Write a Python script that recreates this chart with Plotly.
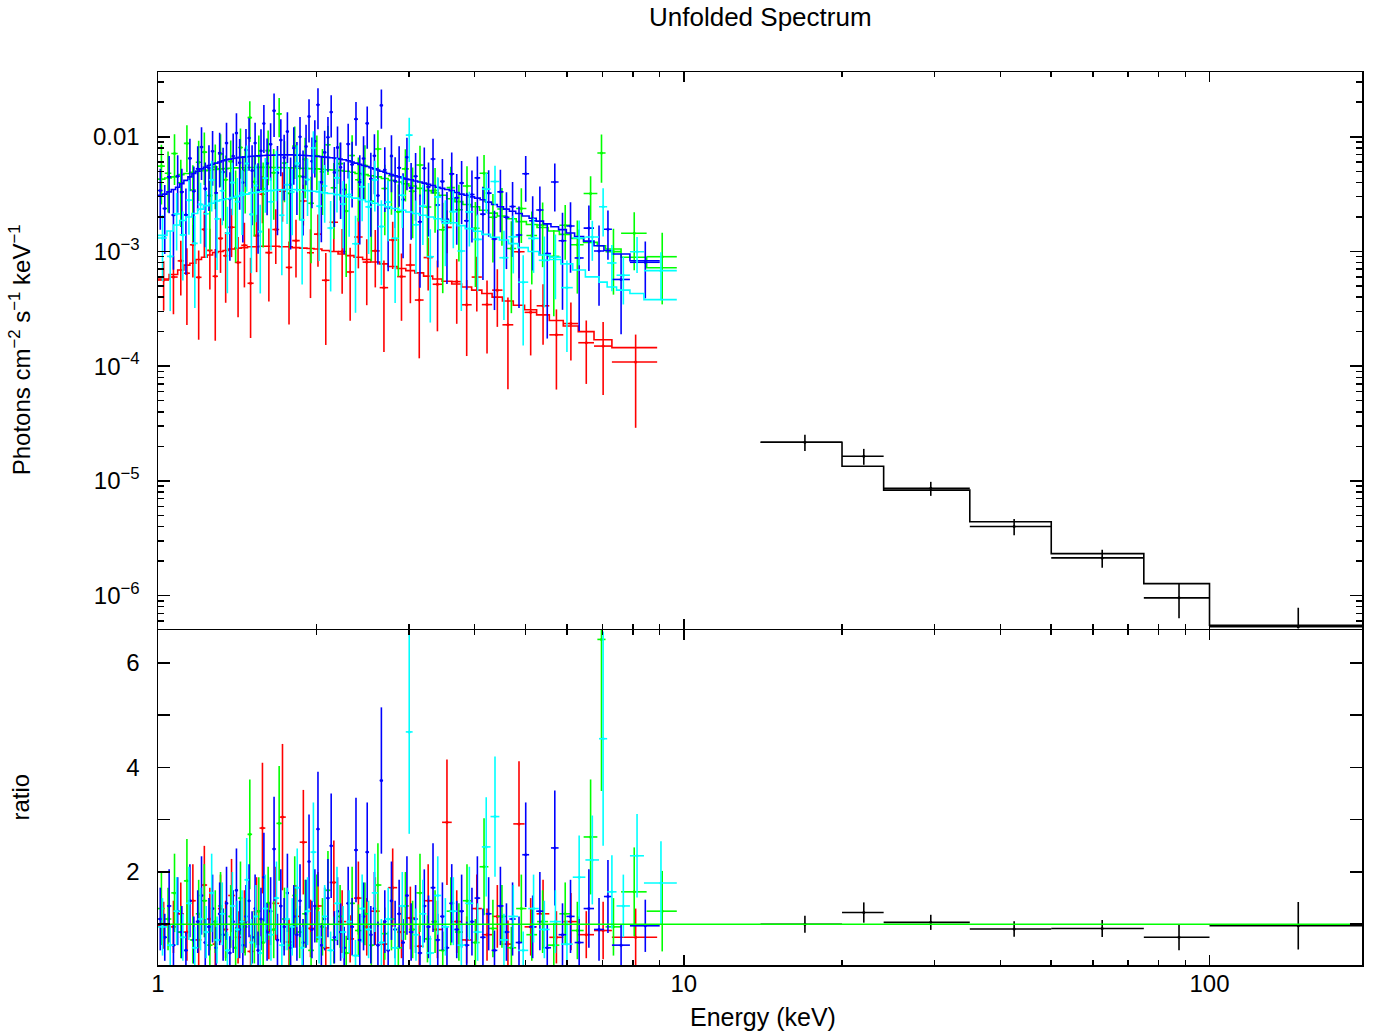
import numpy as np
import plotly.graph_objects as go

# ---------------- BAT-like hard X-ray data (black) ----------------
bat_edges = [14, 20, 24, 35, 50, 75, 100, 195]
bat_flux = [2.17e-5, 1.64e-5, 8.6e-6, 4.0e-6, 2.13e-6, 9.55e-7, 5.34e-7]
bat_flux_err = [3.5e-6, 2.6e-6, 1.2e-6, 6.5e-7, 3.8e-7, 3.2e-7, 2.5e-7]
bat_model = [2.17e-5, 1.34e-5, 8.3e-6, 4.4e-6, 2.32e-6, 1.27e-6, 5.5e-7]

# ---------------- red dataset ----------------
red_edges = [1.00, 1.05, 1.09, 1.12, 1.15, 1.18, 1.21, 1.24, 1.27, 1.30,
             1.33, 1.36, 1.40, 1.44, 1.48, 1.52, 1.56, 1.60, 1.65, 1.70,
             1.75, 1.80, 1.86, 1.92, 1.98, 2.05, 2.12, 2.20, 2.28, 2.36,
             2.45, 2.54, 2.64, 2.74, 2.85, 2.96, 3.08, 3.20, 3.33, 3.47,
             3.62, 3.78, 3.95, 4.13, 4.32, 4.52, 4.74, 4.98, 5.25, 5.55,
             5.90, 6.30, 6.75, 7.30, 8.90]
red_model = [5.75e-4, 6.3e-4, 6.9e-4, 7.6e-4, 7.9e-4, 8.5e-4, 8.9e-4, 9.3e-4, 9.8e-4, 1.0e-3,
             1.02e-3, 1.05e-3, 1.07e-3, 1.08e-3, 1.10e-3, 1.10e-3, 1.11e-3, 1.11e-3, 1.11e-3, 1.10e-3,
             1.10e-3, 1.08e-3, 1.07e-3, 1.06e-3, 1.05e-3, 1.02e-3, 1.0e-3, 9.5e-4, 9.2e-4, 8.9e-4,
             8.5e-4, 8.1e-4, 7.8e-4, 7.4e-4, 7.1e-4, 6.8e-4, 6.5e-4, 6.1e-4, 5.75e-4, 5.5e-4,
             5.2e-4, 4.9e-4, 4.6e-4, 4.3e-4, 4.0e-4, 3.7e-4, 3.4e-4, 3.1e-4, 2.8e-4, 2.5e-4,
             2.24e-4, 2.0e-4, 1.7e-4, 1.45e-4]
red_ratio = [0.98, 0.95, 1.20, 0.85, 1.45, 0.70, 1.75, 1.10, 0.62, 1.30,
             0.90, 1.55, 0.75, 1.05, 0.48, 1.25, 2.84, 0.88, 1.40, 3.05,
             0.66, 1.15, 2.57, 0.92, 1.35, 0.55, 1.80, 1.05, 0.72, 1.50,
             0.95, 1.25, 0.62, 1.70, 0.85, 1.12, 0.58, 1.45, 0.90, 2.95,
             1.05, 0.70, 1.30, 0.80, 1.15, 0.62, 2.92, 0.95, 1.20, 0.75,
             1.05, 0.80, 0.88, 0.75]
red_ratio_err = [0.45, 0.50, 0.60, 0.55, 0.70, 0.50, 0.75, 0.60, 0.45, 0.65,
                 0.55, 0.70, 0.50, 0.60, 0.32, 0.65, 1.25, 0.55, 0.70, 1.40,
                 0.45, 0.60, 1.00, 0.55, 0.65, 0.40, 0.80, 0.60, 0.45, 0.70,
                 0.55, 0.65, 0.45, 0.75, 0.50, 0.60, 0.40, 0.70, 0.55, 1.20,
                 0.60, 0.45, 0.65, 0.50, 0.60, 0.45, 1.20, 0.55, 0.65, 0.50,
                 0.55, 0.45, 0.55, 0.55]

# ---------------- green dataset ----------------
green_edges = [1.00, 1.03, 1.06, 1.09, 1.12, 1.15, 1.18, 1.21, 1.24, 1.27,
               1.30, 1.33, 1.36, 1.39, 1.42, 1.45, 1.48, 1.51, 1.54, 1.57,
               1.60, 1.64, 1.68, 1.72, 1.76, 1.80, 1.84, 1.88, 1.93, 1.98,
               2.03, 2.08, 2.13, 2.19, 2.25, 2.31, 2.37, 2.44, 2.51, 2.58,
               2.66, 2.74, 2.82, 2.91, 3.00, 3.10, 3.20, 3.31, 3.42, 3.54,
               3.67, 3.80, 3.94, 4.09, 4.25, 4.42, 4.60, 4.80, 5.02, 5.26,
               5.52, 5.80, 6.10, 6.45, 6.85, 7.10, 7.60, 8.50, 9.70]
green_model = [4.27e-3, 4.37e-3, 4.47e-3, 4.68e-3, 4.79e-3, 4.90e-3, 5.00e-3, 5.07e-3, 5.13e-3, 5.19e-3,
               5.25e-3, 5.28e-3, 5.31e-3, 5.35e-3, 5.37e-3, 5.37e-3, 5.40e-3, 5.40e-3, 5.41e-3, 5.41e-3,
               5.41e-3, 5.40e-3, 5.40e-3, 5.37e-3, 5.37e-3, 5.35e-3, 5.32e-3, 5.30e-3, 5.27e-3, 5.25e-3,
               5.21e-3, 5.16e-3, 5.13e-3, 5.07e-3, 5.00e-3, 4.90e-3, 4.79e-3, 4.68e-3, 4.57e-3, 4.47e-3,
               4.32e-3, 4.17e-3, 4.03e-3, 3.89e-3, 3.72e-3, 3.55e-3, 3.39e-3, 3.24e-3, 3.09e-3, 2.88e-3,
               2.72e-3, 2.57e-3, 2.45e-3, 2.29e-3, 2.16e-3, 2.04e-3, 1.93e-3, 1.82e-3, 1.72e-3, 1.62e-3,
               1.51e-3, 1.41e-3, 1.30e-3, 1.20e-3, 1.12e-3, 1.05e-3, 8.9e-4, 7.2e-4]
green_ratio = [1.30, 1.10, 1.60, 0.85, 1.83, 0.70, 1.20, 1.45, 0.60, 1.05,
               1.35, 0.80, 1.15, 0.55, 1.50, 0.95, 2.72, 0.75, 1.25, 0.65,
               1.40, 0.90, 2.93, 1.10, 0.60, 1.55, 0.85, 1.20, 0.50, 1.30,
               0.95, 1.65, 0.70, 1.15, 0.45, 1.40, 0.88, 1.20, 0.60, 1.75,
               0.82, 1.10, 0.55, 1.35, 0.90, 1.60, 0.72, 1.05, 0.50, 1.25,
               0.85, 1.45, 0.65, 2.10, 0.92, 1.15, 0.55, 1.30, 0.80, 1.05,
               0.60, 1.20, 0.88, 2.67, 6.45, 0.95, 1.62, 1.25]
green_ratio_err = [0.70, 0.60, 0.75, 0.50, 0.80, 0.45, 0.65, 0.70, 0.40, 0.60,
                   0.65, 0.50, 0.60, 0.40, 0.70, 0.55, 1.05, 0.50, 0.65, 0.45,
                   0.70, 0.55, 1.10, 0.60, 0.40, 0.75, 0.50, 0.65, 0.35, 0.65,
                   0.55, 0.75, 0.45, 0.60, 0.33, 0.70, 0.50, 0.60, 0.42, 0.80,
                   0.50, 0.60, 0.40, 0.65, 0.55, 0.75, 0.45, 0.60, 0.36, 0.65,
                   0.55, 0.70, 0.45, 0.93, 0.55, 0.60, 0.40, 0.65, 0.50, 0.60,
                   0.42, 0.60, 0.55, 1.10, 2.90, 0.55, 0.85, 0.77]

# ---------------- blue dataset ----------------
blue_edges = [1.00, 1.02, 1.04, 1.06, 1.08, 1.10, 1.12, 1.14, 1.16, 1.18,
              1.20, 1.22, 1.24, 1.26, 1.28, 1.30, 1.32, 1.34, 1.36, 1.38,
              1.40, 1.42, 1.44, 1.46, 1.48, 1.50, 1.52, 1.54, 1.56, 1.58,
              1.60, 1.625, 1.65, 1.675, 1.70, 1.725, 1.75, 1.775, 1.80, 1.825,
              1.85, 1.875, 1.90, 1.925, 1.95, 1.975, 2.00, 2.03, 2.06, 2.09,
              2.12, 2.15, 2.18, 2.21, 2.24, 2.28, 2.32, 2.36, 2.40, 2.44,
              2.48, 2.52, 2.56, 2.60, 2.64, 2.68, 2.72, 2.76, 2.80, 2.85,
              2.90, 2.95, 3.00, 3.06, 3.12, 3.18, 3.24, 3.30, 3.37, 3.44,
              3.51, 3.58, 3.66, 3.74, 3.82, 3.91, 4.00, 4.10, 4.20, 4.31,
              4.42, 4.54, 4.66, 4.79, 4.93, 5.08, 5.24, 5.41, 5.59, 5.78,
              5.98, 6.20, 6.45, 6.75, 7.05, 7.30, 7.90, 9.00]
blue_model = [3.09e-3, 3.16e-3, 3.31e-3, 3.47e-3, 3.63e-3, 3.89e-3, 4.17e-3, 4.47e-3, 4.79e-3, 5.01e-3,
              5.25e-3, 5.43e-3, 5.62e-3, 5.75e-3, 5.89e-3, 6.03e-3, 6.17e-3, 6.31e-3, 6.38e-3, 6.46e-3,
              6.53e-3, 6.61e-3, 6.65e-3, 6.68e-3, 6.73e-3, 6.76e-3, 6.79e-3, 6.82e-3, 6.85e-3, 6.87e-3,
              6.89e-3, 6.90e-3, 6.92e-3, 6.93e-3, 6.95e-3, 6.95e-3, 6.95e-3, 6.95e-3, 6.93e-3, 6.92e-3,
              6.90e-3, 6.89e-3, 6.87e-3, 6.84e-3, 6.81e-3, 6.78e-3, 6.75e-3, 6.70e-3, 6.65e-3, 6.61e-3,
              6.56e-3, 6.52e-3, 6.46e-3, 6.38e-3, 6.31e-3, 6.17e-3, 6.03e-3, 5.89e-3, 5.75e-3, 5.62e-3,
              5.50e-3, 5.37e-3, 5.25e-3, 5.13e-3, 5.01e-3, 4.90e-3, 4.79e-3, 4.68e-3, 4.57e-3, 4.47e-3,
              4.37e-3, 4.27e-3, 4.22e-3, 4.12e-3, 4.03e-3, 3.94e-3, 3.85e-3, 3.76e-3, 3.63e-3, 3.55e-3,
              3.47e-3, 3.39e-3, 3.27e-3, 3.16e-3, 3.09e-3, 2.99e-3, 2.92e-3, 2.82e-3, 2.69e-3, 2.57e-3,
              2.45e-3, 2.34e-3, 2.24e-3, 2.14e-3, 2.04e-3, 1.95e-3, 1.84e-3, 1.74e-3, 1.64e-3, 1.55e-3,
              1.45e-3, 1.35e-3, 1.23e-3, 1.12e-3, 1.02e-3, 9.5e-4, 8.3e-4]
blue_ratio = [1.10, 0.75, 1.35, 0.60, 1.25, 0.85, 0.50, 1.45, 0.70, 1.05,
              1.55, 0.65, 0.95, 1.30, 0.55, 1.20, 0.80, 1.40, 0.45, 1.05,
              1.65, 0.90, 0.60, 1.15, 1.45, 0.75, 1.30, 0.50, 1.10, 1.90,
              0.85, 1.25, 2.44, 0.70, 1.35, 0.95, 1.60, 0.55, 1.15, 0.80,
              1.45, 0.65, 1.20, 2.20, 0.90, 1.35, 2.82, 0.60, 1.10, 1.50,
              2.50, 0.75, 1.25, 0.85, 0.55, 1.40, 0.95, 2.42, 0.70, 1.15,
              2.38, 0.80, 1.30, 0.60, 3.75, 1.05, 0.50, 1.45, 0.90, 1.20,
              0.65, 1.55, 0.85, 1.10, 0.45, 1.35, 0.95, 1.70, 0.70, 1.15,
              0.55, 1.40, 0.90, 1.25, 0.60, 1.05, 1.50, 0.75, 1.20, 0.50,
              1.35, 0.85, 1.10, 0.65, 2.33, 0.95, 1.25, 0.55, 2.46, 0.80,
              1.15, 0.65, 1.30, 0.90, 1.53, 0.60, 0.97]
blue_ratio_err = [0.60, 0.45, 0.70, 0.40, 0.65, 0.50, 0.35, 0.70, 0.45, 0.60,
                  0.75, 0.45, 0.55, 0.65, 0.40, 0.60, 0.50, 0.70, 0.32, 0.60,
                  0.80, 0.55, 0.42, 0.60, 0.70, 0.50, 0.65, 0.36, 0.60, 0.85,
                  0.55, 0.65, 1.00, 0.50, 0.70, 0.55, 0.75, 0.40, 0.60, 0.50,
                  0.70, 0.45, 0.65, 0.90, 0.55, 0.70, 1.10, 0.42, 0.60, 0.75,
                  1.00, 0.50, 0.65, 0.55, 0.40, 0.70, 0.55, 1.00, 0.50, 0.65,
                  0.95, 0.55, 0.70, 0.45, 1.40, 0.60, 0.36, 0.75, 0.55, 0.65,
                  0.45, 0.75, 0.55, 0.65, 0.33, 0.70, 0.60, 0.85, 0.50, 0.65,
                  0.40, 0.75, 0.55, 0.70, 0.45, 0.65, 0.80, 0.55, 0.70, 0.38,
                  0.75, 0.55, 0.70, 0.50, 1.00, 0.60, 0.75, 0.45, 1.10, 0.60,
                  0.70, 0.50, 0.75, 0.60, 0.70, 0.40, 0.50]

# ---------------- cyan dataset ----------------
cyan_edges = [1.00, 1.04, 1.07, 1.10, 1.13, 1.16, 1.19, 1.22, 1.25, 1.28,
              1.31, 1.34, 1.37, 1.40, 1.43, 1.46, 1.49, 1.52, 1.55, 1.58,
              1.62, 1.66, 1.70, 1.74, 1.78, 1.82, 1.86, 1.90, 1.95, 2.00,
              2.05, 2.10, 2.16, 2.22, 2.28, 2.34, 2.41, 2.48, 2.55, 2.62,
              2.70, 2.78, 2.87, 2.96, 3.05, 3.14, 3.24, 3.35, 3.46, 3.58,
              3.71, 3.84, 3.98, 4.13, 4.29, 4.46, 4.64, 4.84, 5.06, 5.30,
              5.56, 5.84, 6.15, 6.50, 6.90, 7.15, 7.45, 7.90, 8.40, 9.70]
cyan_model = [1.38e-3, 1.51e-3, 1.70e-3, 1.86e-3, 2.00e-3, 2.14e-3, 2.34e-3, 2.51e-3, 2.63e-3, 2.75e-3,
              2.82e-3, 2.88e-3, 2.95e-3, 3.02e-3, 3.09e-3, 3.16e-3, 3.24e-3, 3.27e-3, 3.31e-3, 3.35e-3,
              3.39e-3, 3.43e-3, 3.45e-3, 3.47e-3, 3.47e-3, 3.45e-3, 3.43e-3, 3.39e-3, 3.35e-3, 3.31e-3,
              3.24e-3, 3.20e-3, 3.13e-3, 3.05e-3, 2.99e-3, 2.92e-3, 2.82e-3, 2.72e-3, 2.63e-3, 2.54e-3,
              2.45e-3, 2.37e-3, 2.29e-3, 2.21e-3, 2.14e-3, 2.07e-3, 2.00e-3, 1.93e-3, 1.86e-3, 1.78e-3,
              1.68e-3, 1.58e-3, 1.50e-3, 1.41e-3, 1.33e-3, 1.26e-3, 1.17e-3, 1.08e-3, 1.00e-3, 9.3e-4,
              8.5e-4, 7.8e-4, 6.9e-4, 6.0e-4, 5.4e-4, 4.9e-4, 4.6e-4, 4.3e-4, 3.8e-4]
cyan_ratio = [0.95, 0.60, 1.25, 0.75, 1.40, 0.55, 1.10, 0.85, 1.60, 0.70,
              1.20, 0.50, 1.35, 0.90, 1.05, 1.85, 0.65, 1.15, 0.45, 1.30,
              0.80, 1.50, 0.60, 1.10, 0.95, 1.70, 0.55, 1.25, 2.38, 0.75,
              1.15, 0.50, 1.40, 0.85, 1.05, 0.40, 1.30, 0.90, 1.60, 0.65,
              1.10, 0.55, 1.35, 4.68, 0.80, 1.20, 0.45, 1.55, 0.95, 1.25,
              0.60, 1.40, 0.85, 2.48, 3.06, 0.70, 1.15, 0.50, 1.30, 0.90,
              1.05, 0.62, 1.90, 2.23, 4.55, 1.62, 1.35, 2.31, 1.79]
cyan_ratio_err = [0.55, 0.40, 0.65, 0.45, 0.70, 0.40, 0.60, 0.50, 0.75, 0.45,
                  0.60, 0.35, 0.65, 0.55, 0.60, 0.80, 0.45, 0.60, 0.32, 0.65,
                  0.50, 0.70, 0.42, 0.60, 0.55, 0.75, 0.40, 0.65, 0.95, 0.50,
                  0.60, 0.36, 0.70, 0.50, 0.60, 0.30, 0.65, 0.55, 0.75, 0.45,
                  0.60, 0.40, 0.65, 1.95, 0.50, 0.65, 0.33, 0.75, 0.55, 0.65,
                  0.42, 0.70, 0.55, 0.95, 1.15, 0.50, 0.60, 0.36, 0.65, 0.55,
                  0.60, 0.45, 0.80, 0.85, 2.05, 0.70, 0.60, 0.80, 0.80]

# ---------------- axis ticks ----------------
x_major = [1, 10, 100]
x_major_text = ["1", "10", "100"]
x_minor = [2, 3, 4, 5, 6, 7, 8, 9, 20, 30, 40, 50, 60, 70, 80, 90]
y_major = [1e-6, 1e-5, 1e-4, 1e-3, 1e-2]
y_major_text = ["10<sup>\u22126</sup>", "10<sup>\u22125</sup>", "10<sup>\u22124</sup>",
                "10<sup>\u22123</sup>", "0.01"]
y_minor = [6e-7, 7e-7, 8e-7, 9e-7] + [m * 10.0 ** k for k in (-6, -5, -4, -3) for m in range(2, 10)] + [2e-2, 3e-2]
r_major = [2, 4, 6]
r_major_text = ["2", "4", "6"]
r_minor = [1, 3, 5]

SERIES = [
    ("black", None),
    ("#ff0000", (red_edges, red_model, red_ratio, red_ratio_err)),
    ("#00ff00", (green_edges, green_model, green_ratio, green_ratio_err)),
    ("#0000ff", (blue_edges, blue_model, blue_ratio, blue_ratio_err)),
    ("#00ffff", (cyan_edges, cyan_model, cyan_ratio, cyan_ratio_err)),
]

FONT = "Liberation Sans, Arial, Helvetica, sans-serif"
LW = 1.6

fig = go.Figure()


def add_block(color, edges, flux, flux_err, model, ratio, ratio_err):
    n = len(edges) - 1
    assert len(flux) == n and len(flux_err) == n and len(model) == n
    assert len(ratio) == n and len(ratio_err) == n
    cen = [(edges[i] + edges[i + 1]) / 2.0 for i in range(n)]
    hw = [(edges[i + 1] - edges[i]) / 2.0 for i in range(n)]
    ex = dict(type="data", array=hw, symmetric=True, color=color, thickness=LW, width=0)
    fig.add_trace(go.Scatter(
        x=cen, y=flux, mode="markers", xaxis="x2", yaxis="y2",
        marker=dict(color=color, size=3),
        error_x=ex,
        error_y=dict(type="data", array=flux_err, symmetric=True, color=color, thickness=LW, width=0),
        showlegend=False, hoverinfo="skip"))
    fig.add_trace(go.Scatter(
        x=list(edges), y=list(model) + [model[-1]], mode="lines", xaxis="x2", yaxis="y2",
        line=dict(color=color, width=LW, shape="hv"),
        showlegend=False, hoverinfo="skip"))
    fig.add_trace(go.Scatter(
        x=cen, y=ratio, mode="markers", xaxis="x", yaxis="y",
        marker=dict(color=color, size=3),
        error_x=ex,
        error_y=dict(type="data", array=ratio_err, symmetric=True, color=color, thickness=LW, width=0),
        showlegend=False, hoverinfo="skip"))


for color, pack in SERIES:
    if pack is None:
        rat = [f / m for f, m in zip(bat_flux, bat_model)]
        rat_err = [e / m for e, m in zip(bat_flux_err, bat_model)]
        add_block(color, bat_edges, bat_flux, bat_flux_err, bat_model, rat, rat_err)
    else:
        edges, model, ratio, rerr = pack
        flux = [m * r for m, r in zip(model, ratio)]
        ferr = [m * e for m, e in zip(model, rerr)]
        add_block(color, edges, flux, ferr, model, ratio, rerr)

fig.add_trace(go.Scatter(x=[1, 195], y=[1, 1], mode="lines", xaxis="x", yaxis="y",
                         line=dict(color="#00ff00", width=LW), showlegend=False, hoverinfo="skip"))

PLOT_H = 893.0
SPLIT = (965 - 630) / PLOT_H
SPLIT_TOP = SPLIT + 1.5 / PLOT_H
axis_common = dict(showline=True, linecolor="black", linewidth=1.5, mirror="allticks",
                   ticks="inside", tickcolor="black", tickwidth=1.5, showgrid=False,
                   zeroline=False, tickfont=dict(family=FONT, size=24, color="black"))
x_minor_cfg = dict(tickmode="array", tickvals=x_minor, ticks="inside", ticklen=5,
                   tickcolor="black", tickwidth=1.5, showgrid=False)

fig.update_layout(
    width=1377, height=1032,
    margin=dict(l=158, r=15, t=72, b=67),
    paper_bgcolor="white", plot_bgcolor="white",
    font=dict(family=FONT, size=24, color="black"),
    hovermode=False,
    xaxis=dict(type="log", range=[0, np.log10(195)], domain=[0, 1], anchor="y",
               tickmode="array", tickvals=x_major, ticktext=x_major_text, ticklen=10,
               ticklabelstandoff=-3, minor=x_minor_cfg, **axis_common),
    xaxis2=dict(type="log", range=[0, np.log10(195)], domain=[0, 1], anchor="y2", matches="x",
                tickmode="array", tickvals=x_major, ticklen=10,
                showticklabels=False, minor=x_minor_cfg, **axis_common),
    yaxis=dict(range=[0.22, 6.63], domain=[0, SPLIT], anchor="x",
               tickmode="array", tickvals=r_major, ticktext=r_major_text, ticklen=12,
               ticklabelstandoff=12,
               minor=dict(tickmode="array", tickvals=r_minor, ticks="inside", ticklen=12,
                          tickcolor="black", tickwidth=1.5, showgrid=False),
               **axis_common),
    yaxis2=dict(type="log", range=[np.log10(5.16e-7), np.log10(0.0367)], domain=[SPLIT_TOP, 1],
                anchor="x2", tickmode="array", tickvals=y_major, ticktext=y_major_text, ticklen=12,
                ticklabelstandoff=12,
                minor=dict(tickmode="array", tickvals=y_minor, ticks="inside", ticklen=6,
                           tickcolor="black", tickwidth=1.5, showgrid=False),
                **axis_common),
    annotations=[
        dict(text="Unfolded Spectrum", xref="paper", yref="paper", x=0.5, y=1,
             xanchor="center", yanchor="middle", yshift=55, showarrow=False,
             font=dict(family=FONT, size=26, color="black")),
        dict(text="Energy (keV)", xref="paper", yref="paper", x=0.5, y=0,
             xanchor="center", yanchor="middle", xshift=3, yshift=-52, showarrow=False,
             font=dict(family=FONT, size=25, color="black")),
        dict(text="Photons cm<sup>\u22122</sup> s<sup>\u22121</sup> keV<sup>\u22121</sup>",
             xref="paper", yref="paper", x=0, y=(SPLIT_TOP + 1) / 2, xanchor="center", yanchor="middle",
             xshift=-138, textangle=-90, showarrow=False,
             font=dict(family=FONT, size=24, color="black")),
        dict(text="ratio", xref="paper", yref="paper", x=0, y=SPLIT / 2,
             xanchor="center", yanchor="middle", xshift=-138, textangle=-90, showarrow=False,
             font=dict(family=FONT, size=24, color="black")),
    ],
)

fig.write_html("out.html", config={"displayModeBar": False, "staticPlot": True},
               post_script="document.body.style.margin='0px';")
